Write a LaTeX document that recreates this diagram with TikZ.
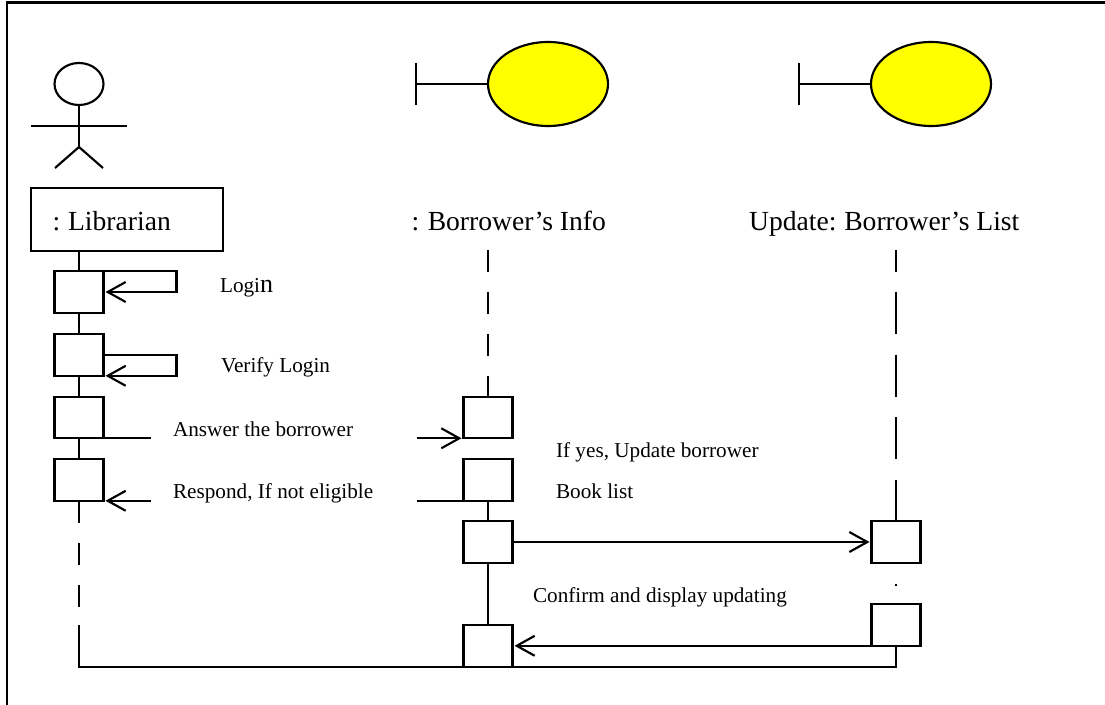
\documentclass[tikz,border=0pt]{standalone}
\usepackage{fontspec}
\setmainfont{Liberation Serif}
\usetikzlibrary{arrows.meta, calc, shapes.geometric}
\definecolor{boundyellow}{RGB}{255,255,0}
\tikzset{
    lifebox/.style={draw, outer sep=0pt, minimum width=36.75pt, minimum height=31.2pt, inner sep=0pt},
    headlabel/.style={anchor=base west, inner sep=0pt, font=\fontsize{20.7}{24}\selectfont},
    msglabel/.style={anchor=base west, inner sep=0pt, font=\fontsize{15.9}{18}\selectfont},
    dashline/.style={dash pattern=on 16.5pt off 15pt},
    longdash/.style={dash pattern=on 31.5pt off 15.5pt},
}

\begin{document}
\begin{tikzpicture}[x=0.75pt, y=-0.75pt, line width=1.6pt, >={Straight Barb[length=13.5pt, width=15pt]}]
    \useasboundingbox (0,0) rectangle (1105,705);

    % Outer frame
    \draw (1105,2.5) -- (7,2.5) -- (7,705);

    % Actor
    \node[draw, ellipse, outer sep=0pt, minimum width=36.75pt, minimum height=31.5pt, inner sep=0pt] (head) at (79,84) {};
    \coordinate (hip) at (79,147);
    \coordinate (armleft) at (31,126);
    \coordinate (armright) at (127,126);
    \coordinate (footleft) at (55,168);
    \coordinate (footright) at (103,168);
    \draw (head.south) -- (hip);
    \draw (armleft) -- (armright);
    \draw (footleft) -- (hip) -- (footright);

    % Boundary objects
    \foreach \bname/\bx in {info/548, list/931} {
        \node[draw, ellipse, fill=boundyellow, outer sep=0pt, minimum width=90pt, minimum height=63pt, inner sep=0pt] (\bname) at (\bx,84) {};
        \coordinate (\bname bartop) at (\bx-132,63);
        \coordinate (\bname barbot) at (\bx-132,105);
        \draw (\bname bartop) -- (\bname barbot);
        \draw (\bname.west) -- ($(\bname bartop)!0.5!(\bname barbot)$);
    }

    % Header labels
    \node[draw, outer sep=0pt, minimum width=144pt, minimum height=47.25pt, inner sep=0pt] (librarian) at (127,219.5) {};
    \node[headlabel] (librarianlab) at (51.5,230.5) {:\hspace{-1pt} Librarian};
    \node[headlabel] (infolab) at (410.5,230.5) {:\hspace{-0.5pt} Borrower’s Info};
    \node[headlabel] (listlab) at (748,230.5) {Update:\hspace{-1pt} Borrower’s List};

    % Activation boxes
    \node[lifebox] (login) at (79,292) {};
    \node[lifebox] (verify) at (79,355) {};
    \node[lifebox] (answer) at (79,417.5) {};
    \node[lifebox] (respond) at (79,480) {};
    \node[lifebox] (getanswer) at (488,417.5) {};
    \node[lifebox] (sendrespond) at (488,480) {};
    \node[lifebox] (update) at (488,542) {};
    \node[lifebox] (getconfirm) at (488,646) {};
    \node[lifebox] (getupdate) at (896,542) {};
    \node[lifebox] (confirm) at (896,625) {};

    % Librarian lifeline
    \coordinate (libdash) at (79,625);
    \coordinate (libcorner) at (79,667);
    \draw (librarian.south -| login) -- (login);
    \draw (login) -- (verify);
    \draw (verify) -- (answer);
    \draw (answer) -- (respond);
    \draw[dashline] (respond.south) -- (libdash);
    \draw (libdash) -- (libcorner) -- (libcorner -| confirm) -- (confirm.south);

    % Borrower's Info lifeline
    \coordinate (infotop) at (488,250);
    \draw[dashline] (infotop) -- (getanswer.north);
    \draw (sendrespond.south) -- (update.north);
    \draw (update.south) -- (getconfirm.north);

    % Borrower's List lifeline
    \coordinate (listtop) at (896,250);
    \coordinate (listtopend) at (896,272);
    \coordinate (listnext) at (896,292);
    \coordinate (listdot) at (896,584);
    \coordinate (listdotend) at (896,585.5);
    \draw (listtop) -- (listtopend);
    \draw[longdash] (listnext) -- (getupdate.north);
    \draw[line width=1pt] (listdot) -- (listdotend);

    % Self messages
    \coordinate (loginturn) at ($(login.north east)+(73,0)$);
    \coordinate (verifyturn) at ($(verify.east)+(73,0)$);
    \draw[->, shorten >=1.5pt] (login.north east) -- (loginturn) |- (login.east);
    \draw[->, shorten >=1.5pt] (verify.east) -- (verifyturn) |- (verify.south east);
    \node[msglabel] (loginlab) at (219,293) {Logi{\fontsize{19.5}{20}\selectfont n}};
    \node[msglabel] (verifylab) at (220,373) {Verify Login};

    % Messages between objects
    \coordinate (answerfrom) at ($(answer.south east)+(47,0)$);
    \coordinate (answerto) at ($(getanswer.south west)+(-47,0)$);
    \draw (answer.south east) -- (answerfrom);
    \draw[->, shorten >=1.5pt] (answerto) -- (getanswer.south west);
    \node[msglabel] (answerlab) at (172,436) {Answer the borrower};

    \coordinate (respondfrom) at ($(sendrespond.south west)+(-47,0)$);
    \coordinate (respondto) at ($(respond.south east)+(47,0)$);
    \draw (sendrespond.south west) -- (respondfrom);
    \draw[->, shorten >=1.5pt] (respondto) -- (respond.south east);
    \node[msglabel] (respondlab) at (172,498) {Respond, If not eligible};

    \draw[->, shorten >=1.5pt] (update.east) -- (getupdate.west);
    \node[msglabel] (yeslab) at (555,457) {If yes, Update borrower};
    \node[msglabel] (booklab) at (555,498) {Book list};

    \draw[->, shorten >=1.5pt] (confirm.south west) -- (confirm.south west -| getconfirm.east);
    \node[msglabel] (confirmlab) at (532,602) {Confirm and display updating};
\end{tikzpicture}
\end{document}
